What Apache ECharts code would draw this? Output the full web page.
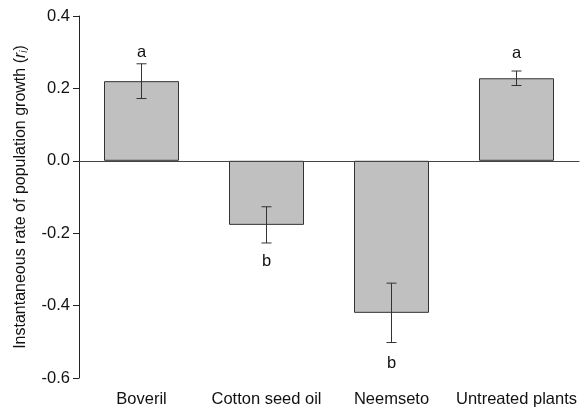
<!DOCTYPE html>
<html>
<head>
<meta charset="utf-8">
<script src="https://cdn.jsdelivr.net/npm/echarts@6/dist/echarts.min.js"></script>
<style>html,body{margin:0;padding:0;background:#fff}#c{width:581px;height:410px}</style>
</head>
<body>
<div id="c"></div>
<script>
var categories = ['Boveril', 'Cotton seed oil', 'Neemseto', 'Untreated plants'];
var values = [0.22, -0.177, -0.42, 0.228];
var errors = [0.048, 0.05, 0.082, 0.02];
var letters = ['a', 'b', 'b', 'a'];
var letterPos = [0.298, -0.279, -0.56, 0.296];
var yTicks = [-0.6, -0.4, -0.2, 0.0, 0.2, 0.4];

var FONT = 'Liberation Sans, Arial, sans-serif';
var chart = echarts.init(document.getElementById('c'));
chart.setOption({
  animation: false,
  grid: {left: 79, right: 2, top: 16, bottom: 32, containLabel: false},
  xAxis: {
    type: 'category',
    data: categories,
    boundaryGap: true,
    axisLine: {lineStyle: {color: '#222', width: 1}},
    axisTick: {alignWithLabel: true, length: 5, lineStyle: {color: '#222'}},
    axisLabel: {interval: 0, color: '#111', fontSize: 16.5, fontFamily: FONT, margin: 13},
    splitLine: {show: false}
  },
  yAxis: {
    type: 'value',
    min: -0.6, max: 0.4, interval: 0.2,
    axisLine: {show: true, lineStyle: {color: '#222', width: 1}},
    axisTick: {show: true, length: 6, lineStyle: {color: '#222'}},
    axisLabel: {color: '#111', fontSize: 16.5, fontFamily: FONT, margin: 9,
      formatter: function (v) { return yTicks.indexOf(Math.round(v * 10) / 10) >= 0 ? v.toFixed(1) : ''; }},
    splitLine: {show: false},
    name: '{n|Instantaneous rate of population growth (}{it|r}{sub|i}{n|)}',
    nameLocation: 'middle',
    nameGap: 50,
    nameRotate: 90,
    nameTextStyle: {
      rich: {
        n: {fontSize: 16, fontFamily: FONT, color: '#111'},
        it: {fontSize: 16, fontFamily: FONT, fontStyle: 'italic', color: '#111'},
        sub: {fontSize: 10, fontFamily: FONT, fontStyle: 'italic', color: '#111', verticalAlign: 'bottom', padding: [7, 0, 0, 0]}
      }
    }
  },
  series: [
    {
      type: 'bar',
      data: values,
      barWidth: 75,
      itemStyle: {color: '#c0c0c0', borderColor: '#333', borderWidth: 1},
      markLine: {
        silent: true, symbol: 'none', label: {show: false},
        lineStyle: {color: '#444', width: 1, type: 'solid'},
        data: [{yAxis: 0}]
      }
    },
    {
      type: 'custom',
      data: values.map(function (v, i) { return [i, v - errors[i], v + errors[i]]; }),
      renderItem: function (params, api) {
        var lo = api.coord([api.value(0), api.value(1)]);
        var hi = api.coord([api.value(0), api.value(2)]);
        var w = 5;
        var st = {stroke: '#333', lineWidth: 1};
        return {type: 'group', children: [
          {type: 'line', shape: {x1: hi[0], y1: hi[1], x2: lo[0], y2: lo[1]}, style: st},
          {type: 'line', shape: {x1: hi[0] - w, y1: hi[1], x2: hi[0] + w, y2: hi[1]}, style: st},
          {type: 'line', shape: {x1: lo[0] - w, y1: lo[1], x2: lo[0] + w, y2: lo[1]}, style: st}
        ]};
      },
      z: 5
    },
    {
      type: 'custom',
      data: letterPos.map(function (v, i) { return [i, v]; }),
      renderItem: function (params, api) {
        var p = api.coord([api.value(0), api.value(1)]);
        return {type: 'text', x: p[0], y: p[1], style: {
          text: letters[params.dataIndex], fill: '#111', fontSize: 16.5, fontFamily: FONT,
          align: 'center', verticalAlign: 'middle'
        }};
      },
      z: 6
    }
  ]
});
</script>
</body>
</html>
